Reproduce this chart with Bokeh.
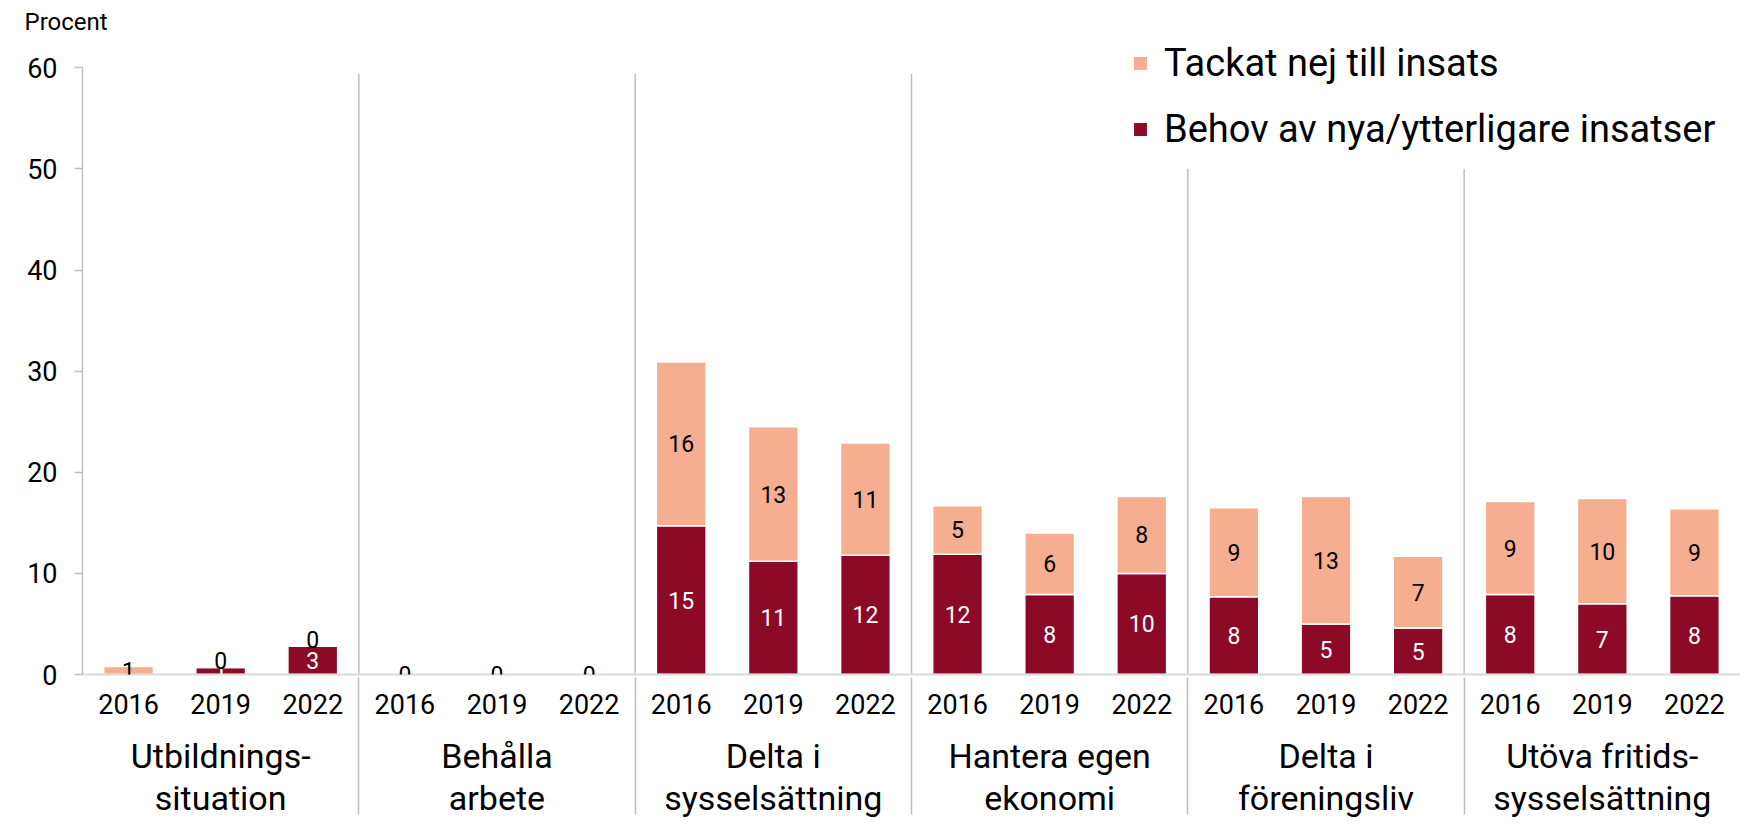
from bokeh.plotting import figure
from bokeh.models import (FactorRange, Range1d, ColumnDataSource, LabelSet, Legend,
                          LegendItem, FixedTicker)
from bokeh.embed import file_html
from bokeh.resources import INLINE
from bokeh.core.properties import value

categories = ["Utbildnings-\nsituation", "Behålla\narbete", "Delta i\nsysselsättning",
              "Hantera egen\nekonomi", "Delta i\nföreningsliv", "Utöva fritids-\nsysselsättning"]
years = ["2016", "2019", "2022"]
series_names = ["Behov av nya/ytterligare insatser", "Tackat nej till insats"]
behov = [0.0, 0.7, 2.8, 0.0, 0.0, 0.0, 14.7, 11.2, 11.8, 11.9, 7.9, 10.0, 7.7, 5.0, 4.6, 7.9, 7.0, 7.8]
tackat = [0.8, 0.0, 0.0, 0.0, 0.0, 0.0, 16.2, 13.3, 11.1, 4.8, 6.1, 7.6, 8.8, 12.6, 7.1, 9.2, 10.4, 8.6]
y_ticks = [0, 10, 20, 30, 40, 50, 60]

FONT = "Roboto"
DARK = "#8C0A26"
LIGHT = "#F5AE8F"
GREY = "#BFBFBF"

x = [(c, y) for c in categories for y in years]
src = ColumnDataSource(dict(x=x, behov=behov, tackat=tackat))

p = figure(x_range=FactorRange(*x, factor_padding=0, group_padding=0, range_padding=0),
           y_range=Range1d(0, 62.7), width=1740, height=820,
           output_backend="svg", toolbar_location=None,
           min_border_left=82, min_border_right=0, min_border_top=32, min_border_bottom=146)

p.outline_line_color = None
p.xgrid.grid_line_color = None
p.ygrid.grid_line_color = None
p.background_fill_color = "white"

# group dividers
n = len(years)
bounds = [n * k for k in range(1, len(categories))]
tops = [59.4 if k < 4 else 50.0 for k in range(1, len(categories))]
p.segment(x0=bounds, y0=[0] * len(bounds), x1=bounds, y1=tops, line_color=GREY, line_width=1.5)

rs = p.vbar_stack(["behov", "tackat"], x="x", width=0.54, color=[DARK, LIGHT],
                  line_color="white", line_width=1.5, source=src)

# data labels (centred in each segment; empty segments on top of a bar float just above it)
dx, dy, dt = [], [], []
lx, ly, lt, lo = [], [], [], []
for xi, b, t in zip(x, behov, tackat):
    if b > 0:
        dx.append(xi); dy.append(b / 2); dt.append(str(round(b)))
    lx.append(xi); ly.append(b + t / 2); lt.append(str(round(t)))
    lo.append(7 if (t == 0 and b > 0) else 0)

p.add_layout(LabelSet(x="x", y="y", text="t", source=ColumnDataSource(dict(x=dx, y=dy, t=dt)),
                      text_align="center", text_baseline="middle", text_color="white",
                      text_font=value(FONT), text_font_size="23px"))
p.add_layout(LabelSet(x="x", y="y", text="t", y_offset="o",
                      source=ColumnDataSource(dict(x=lx, y=ly, t=lt, o=lo)),
                      text_align="center", text_baseline="middle", text_color="black",
                      text_font=value(FONT), text_font_size="23px"))

# y axis
ya = p.yaxis[0]
ya.ticker = FixedTicker(ticks=y_ticks)
ya.bounds = (y_ticks[0], y_ticks[-1])
ya.major_label_text_font = FONT
ya.major_label_text_font_size = "27px"
ya.major_label_text_color = "black"
ya.axis_line_color = GREY
ya.axis_line_width = 1.5
ya.major_tick_line_color = GREY
ya.major_tick_line_width = 1.5
ya.major_tick_out = 8
ya.major_tick_in = 0
ya.minor_tick_line_color = None
ya.major_label_standoff = 17

# x axis
xa = p.xaxis[0]
xa.major_label_text_font = FONT
xa.major_label_text_font_size = "27px"
xa.major_label_text_color = "black"
xa.major_label_standoff = 19
xa.major_tick_line_color = None
xa.major_tick_out = 0
xa.major_tick_in = 0
xa.axis_line_color = "#D9D9D9"
xa.axis_line_width = 2
xa.group_text_font = FONT
xa.group_text_font_size = "34px"
xa.group_text_font_style = "normal"
xa.group_text_color = "black"
xa.group_text_line_height = 1.05
xa.separator_line_color = GREY
xa.separator_line_width = 1.5

# title
p.title.text = "Procent"
p.title.text_font = FONT
p.title.text_font_size = "24px"
p.title.text_font_style = "normal"
p.title.text_color = "black"
p.title.align = "left"
p.title.offset = -58

legend = Legend(items=[LegendItem(label=series_names[1], renderers=[rs[1]]),
                       LegendItem(label=series_names[0], renderers=[rs[0]])],
                location=(1049, 523), orientation="vertical",
                glyph_width=18, glyph_height=18, label_height=40, spacing=22,
                label_standoff=15, padding=0, margin=0,
                border_line_color=None, background_fill_alpha=0,
                label_text_font=FONT, label_text_font_size="38px", label_text_color="black")
p.add_layout(legend)

open("out.html", "w").write(file_html(p, INLINE))
